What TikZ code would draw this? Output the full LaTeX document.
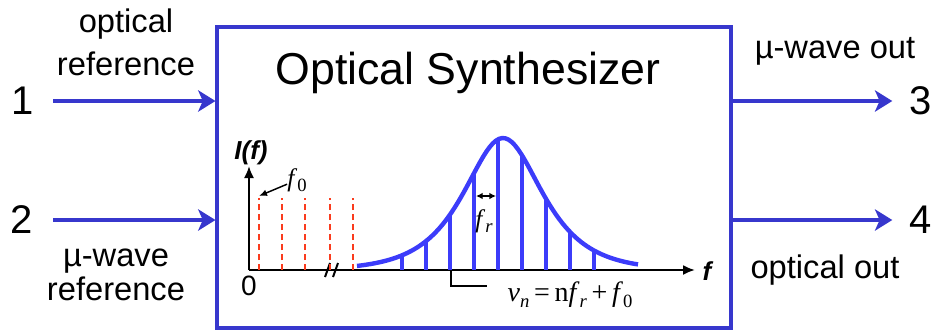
\documentclass[tikz,border=0pt]{standalone}
\usepackage{fontspec}
\setmainfont{Liberation Sans}
\newfontfamily\symfont{Liberation Serif}
\usetikzlibrary{arrows.meta,positioning}

\definecolor{boxblue}{RGB}{55,55,205}
\definecolor{combblue}{RGB}{60,60,250}
\definecolor{combred}{RGB}{250,60,30}

% lowered subscript for the serif labels
\newcommand\lowsub[1]{\raisebox{-0.45ex}{\fontsize{14}{14}\selectfont #1}}

\begin{document}
\begin{tikzpicture}[x=0.75pt,y=-0.75pt,
  port/.style={font=\fontsize{30}{30}\selectfont,inner sep=0pt},
  lbl/.style={font=\fontsize{24.5}{32}\selectfont,align=center,inner sep=0pt},
  sig/.style={boxblue,line width=2.3pt,-{Stealth[length=13pt,width=16pt,inset=3.5pt]}},
  axis/.style={line width=1.5pt,-{Latex[length=9pt,width=7.5pt]}},
  tooth/.style={combblue,line width=3pt},
  refline/.style={combred,line width=1.5pt,dash pattern=on 4.5pt off 3pt},
  thinline/.style={line width=1.1pt},
  seriflbl/.style={font=\symfont\fontsize{19}{19}\selectfont,inner sep=0pt}]
  \useasboundingbox (0,0) rectangle (934,330);
  % synthesizer box
  \node[draw=boxblue,line width=2.3pt,minimum width=385.5pt,minimum height=225.75pt] (synth) at (474,177.5) {};
  \node[font=\fontsize{33.5}{36}\selectfont] (title) at (468,73) {Optical Synthesizer};
  % ports
  \node[port] (p1) at (23,101) {1};
  \node[port] (p2) at (22,220) {2};
  \node[port] (p3) at (921,101) {3};
  \node[port] (p4) at (921,220) {4};
  \draw[sig,shorten <=14pt] (p1.east) -- (p1 -| synth.west);
  \draw[sig,shorten <=15pt] (p2.east) -- (p2 -| synth.west);
  \draw[sig,shorten >=13pt] (p3 -| synth.east) -- (p3.west);
  \draw[sig,shorten >=13pt] (p4 -| synth.east) -- (p4.west);
  \node[lbl] (optref) at (126,42) {optical\\reference};
  \node[lbl,font=\fontsize{24.5}{26}\selectfont] (mwref) at (116,275) {µ-wave\\reference};
  \node[lbl,anchor=base] (mwout) at (835,58) {µ-wave out};
  \node[lbl,anchor=base] (optout) at (825,278) {optical out};
  % axes
  \coordinate (o) at (249,270);
  \coordinate (ytop) at (249,166);
  \coordinate (xend) at (695,270);
  \draw[axis] (o) -- (ytop);
  \draw[axis] (o) -- (xend);
  \node[font=\fontsize{19.5}{20}\selectfont\bfseries\itshape] (ylab) at (251,153) {I(f)};
  \node[font=\fontsize{19.5}{20}\selectfont\bfseries\itshape] (xlab) at (707,271) {f};
  \node[font=\fontsize{21}{21}\selectfont] (zero) at (249,286) {0};
  \draw[line width=1.5pt] (325,277) -- (330,263) (333,277) -- (338,263);
  % offset lines
  \foreach \x in {259,282,305,330,353}
    \draw[refline] (\x,270) -- (\x,198);
  \node[seriflbl] (f0lab) at (297,180) {\textit{f}\lowsub{0}};
  \coordinate (f0tip) at (259,196);
  \draw[thinline,-{Latex[length=6pt,width=5pt]}] (f0lab) -- (f0tip);
  % comb
  \draw[combblue,line width=3.3pt] plot[domain=357:638,samples=90]
    (\x,{270-264/(exp((\x-503)/35)+exp(-(\x-503)/35))});
  \foreach \k in {0,...,8}{
    \pgfmathsetmacro\xx{402+24*\k}
    \draw[tooth] (\xx,270) -- (\xx,{270-264/(exp((\xx-503)/35)+exp(-(\xx-503)/35))});
  }
  \coordinate (frl) at (476,196);
  \coordinate (frr) at (496,196);
  \draw[thinline,{Latex[length=5pt,width=5pt]}-{Latex[length=5pt,width=5pt]}] (frl) -- (frr);
  \node[seriflbl] (frlab) at (484,221) {\textit{f}\lowsub{\textit{r}}};
  \node[seriflbl,font=\symfont\fontsize{21}{21}\selectfont] (nulab) at (570,295)
    {\textit{ν}\lowsub{\textit{n}}\,=\,n\textit{f}\lowsub{\textit{r}}\,+\,\textit{f}\lowsub{0}};
  \coordinate (nb) at (451,271);
  \coordinate (nbend) at (487,286);
  \draw[thinline] (nb) |- (nbend);
\end{tikzpicture}
\end{document}
